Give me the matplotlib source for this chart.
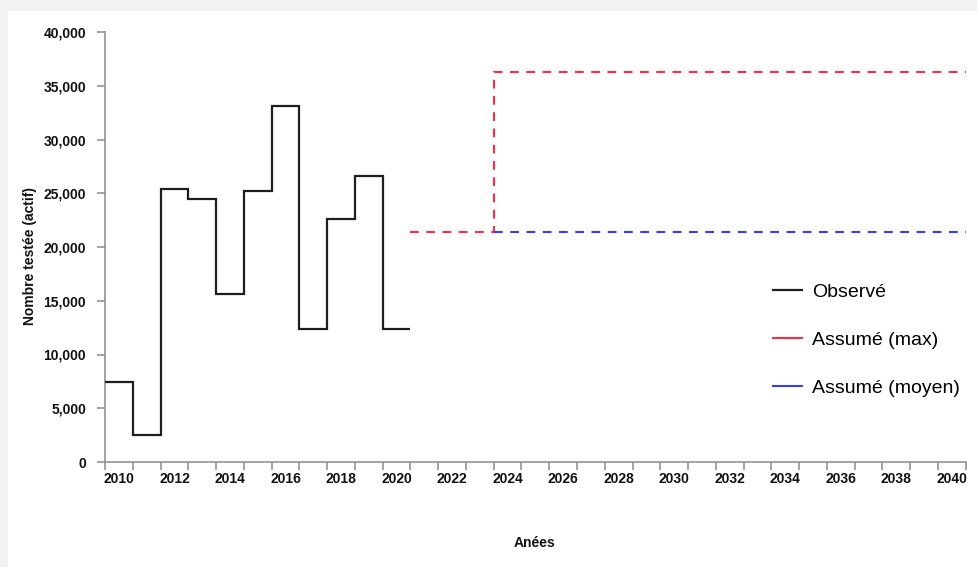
import numpy as np
import matplotlib
matplotlib.use("Agg")
import matplotlib.pyplot as plt
from matplotlib.lines import Line2D
from matplotlib.patches import Rectangle
from matplotlib.ticker import FuncFormatter, MultipleLocator

plt.rcParams['font.family'] = ['Liberation Sans', 'DejaVu Sans']

# observed yearly counts, one value per year slot
obs_years = [2010, 2011, 2012, 2013, 2014, 2015, 2016, 2017, 2018, 2019, 2020]
obs_values = [7450, 2480, 25400, 24500, 15600, 25200, 33100, 12400, 22600, 26600, 12400]

# assumed scenarios
max_edges = [2021, 2024, 2041]
max_values = [21400, 36300]
mean_edges = [2024, 2041]
mean_values = [21400]

y_ticks = [0, 5000, 10000, 15000, 20000, 25000, 30000, 35000, 40000]
label_years = list(range(2010, 2041, 2))

black = '#1e1e1e'
red = '#ff2a44'
blue = '#3a3aff'
grey = '#8a8a8a'

fig = plt.figure(figsize=(9.78, 5.67), dpi=100, facecolor='#f2f2f2')
fig.patches.append(Rectangle((8 / 978, 0), 1, 1 - 11 / 567, transform=fig.transFigure,
                             facecolor='white', edgecolor='none', zorder=-5))

ax = fig.add_axes([105 / 978, 1 - 462 / 567, (965.7 - 105) / 978, 430 / 567])
ax.set_facecolor('none')

edges = obs_years + [obs_years[-1] + 1]
ax.stairs(obs_values, edges, baseline=None, color=black, lw=1.6, zorder=3)
ax.stairs(max_values, max_edges, baseline=None, color=red, lw=1.5,
          linestyle=(0, (4.2, 3.6)), zorder=2)
ax.stairs(mean_values, mean_edges, baseline=None, color=blue, lw=1.5,
          linestyle=(0, (4.2, 3.6)), zorder=2)

ax.set_xlim(2010, 2041)
ax.set_ylim(0, 40000)

for s in ['top', 'right']:
    ax.spines[s].set_visible(False)
for s in ['left', 'bottom']:
    ax.spines[s].set_color(grey)
    ax.spines[s].set_linewidth(1.1)

ax.set_yticks(y_ticks)
ax.yaxis.set_major_formatter(FuncFormatter(lambda v, p: f'{int(v):,}'))
ax.tick_params(axis='y', direction='out', length=6, width=1.1, color=grey, pad=7.5,
               labelsize=10)

# ticks on every year boundary, labels centred in the even-year slots
ax.xaxis.set_major_locator(MultipleLocator(1))
ax.set_xticks([y + 0.5 for y in label_years], minor=True)
ax.set_xticklabels([str(y) for y in label_years], minor=True)
ax.tick_params(axis='x', which='major', direction='out', length=6, width=1.1,
               color=grey, labelbottom=False)
ax.tick_params(axis='x', which='minor', length=0, pad=7, labelsize=10)

for lab in ax.get_yticklabels() + ax.get_xticklabels(minor=True):
    lab.set_fontweight('bold')
    lab.set_color('#111111')

fig.text(30 / 978, 1 - 256 / 567, 'Nombre testée (actif)', rotation=90,
         ha='center', va='center', fontsize=10, fontweight='bold', color='#111111')
fig.text(535 / 978, 1 - 543 / 567, 'Anées', ha='center', va='center',
         fontsize=10, fontweight='bold', color='#111111')

handles = [Line2D([], [], color=black, lw=1.6),
           Line2D([], [], color=red, lw=1.5),
           Line2D([], [], color=blue, lw=1.5)]
labels = ['Observé', 'Assumé (max)', 'Assumé (moyen)']
fig.legend(handles, labels, loc='center left', bbox_to_anchor=(773 / 978, 1 - 340 / 567),
           frameon=False, fontsize=14, handlelength=1.5, handletextpad=0.5,
           labelspacing=1.55, borderpad=0, borderaxespad=0)

fig.savefig('out.png', dpi=100, facecolor=fig.get_facecolor())
